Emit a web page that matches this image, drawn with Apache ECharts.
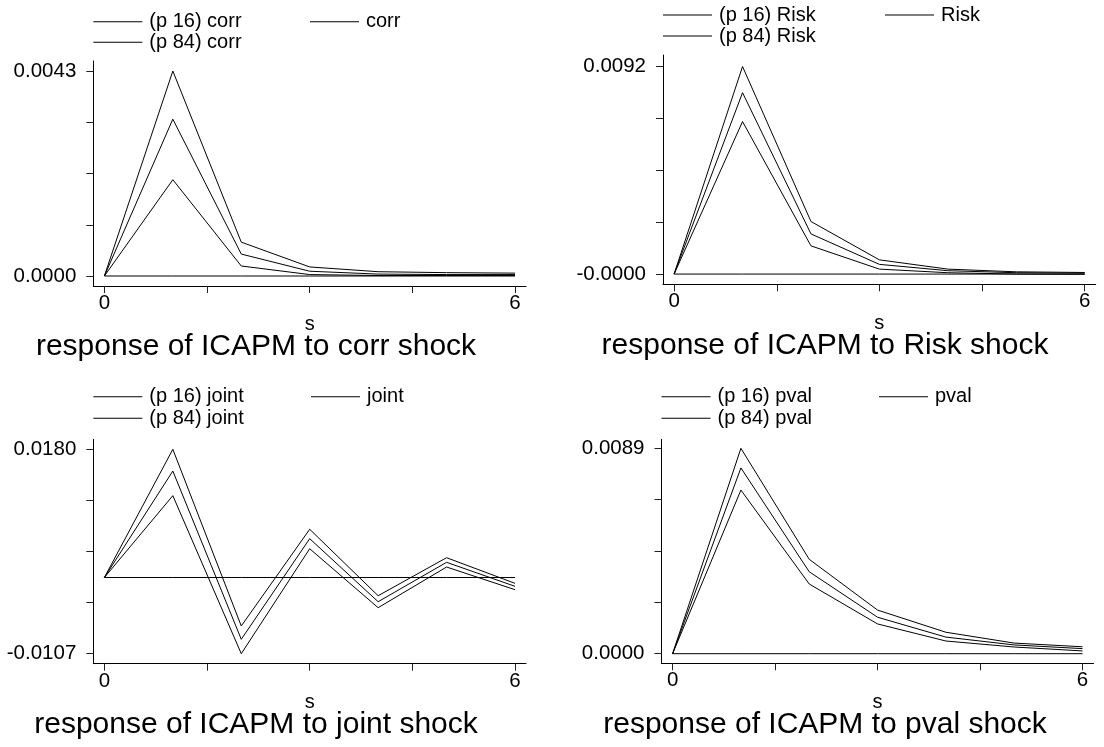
<!DOCTYPE html>
<html><head><meta charset="utf-8">
<script src="https://cdn.jsdelivr.net/npm/echarts@6/dist/echarts.min.js"></script>
<style>html,body{margin:0;padding:0;background:#fff}#c{width:1104px;height:747px}</style>
</head><body><div id="c"></div><script>
// ---- data ----
const steps = [0, 1, 2, 3, 4, 5, 6];
const xTickValues = [0, 1.5, 3, 4.5, 6];
const xTickLabels = [0, 6];
const shocks = ['corr', 'Risk', 'joint', 'pval'];

const corrP16  = [0, 0.00202, 0.00021, 0.00003, 0.00001, 0.00001, 0.00001];
const corrMean = [0, 0.00329, 0.00046, 0.00010, 0.00004, 0.00003, 0.00003];
const corrP84  = [0, 0.00430, 0.00071, 0.00019, 0.00009, 0.00007, 0.00006];

const riskP16  = [0, 0.00676, 0.00125, 0.00022, 0.00006, 0.00000, -0.00001];
const riskMean = [0, 0.00804, 0.00178, 0.00043, 0.00015, 0.00006, 0.00004];
const riskP84  = [0, 0.00920, 0.00233, 0.00063, 0.00022, 0.00010, 0.00007];

const jointP16  = [0, 0.01149, -0.01070, 0.00404, -0.00424, 0.00147, -0.00171];
const jointMean = [0, 0.01495, -0.00868, 0.00545, -0.00340, 0.00213, -0.00124];
const jointP84  = [0, 0.01800, -0.00681, 0.00677, -0.00256, 0.00278, -0.00082];

const pvalP16  = [0, 0.00709, 0.00302, 0.00129, 0.00055, 0.00029, 0.00012];
const pvalMean = [0, 0.00805, 0.00355, 0.00158, 0.00072, 0.00038, 0.00022];
const pvalP84  = [0, 0.00890, 0.00409, 0.00189, 0.00093, 0.00046, 0.00030];

const zeroRef = [0, 0, 0, 0, 0, 0, 0];

const yLabelMin = [0, -0.00001, -0.0107, 0];
const yLabelMax = [0.0043, 0.0092, 0.0180, 0.0089];

const p16s  = [corrP16, riskP16, jointP16, pvalP16];
const means = [corrMean, riskMean, jointMean, pvalMean];
const p84s  = [corrP84, riskP84, jointP84, pvalP84];

// ---- layout (pixels) ----
const L = [
  {gl: 93.3, gr: 526,    gt: 61,    gb: 286,   tt: 71,    tb: 276,   rows: [21.7, 42.3],  col2: 310, tx: 256},
  {gl: 663,  gr: 1095.7, gt: 55,    gb: 284.3, tt: 66.5,  tb: 274.3, rows: [15, 36],      col2: 885, tx: 825},
  {gl: 93.3, gr: 526,    gt: 439.3, gb: 663.7, tt: 449.3, tb: 653.7, rows: [396.7, 418.3], col2: 311, tx: 256},
  {gl: 661.5,gr: 1093.5, gt: 439.3, gb: 663.3, tt: 448.3, tb: 653.7, rows: [396.7, 418.3], col2: 879, tx: 825}
];
const FONT = '"Liberation Sans", Arial, Helvetica, sans-serif';
const LINE = '#000';

const grids = [], xAxes = [], yAxes = [], series = [], legends = [], titles = [];
shocks.forEach((s, i) => {
  const p = L[i];
  grids.push({left: p.gl, top: p.gt, width: p.gr - p.gl, height: p.gb - p.gt,
              containLabel: false, outerBoundsMode: 'none'});
  const unit = (p.gr - p.gl - 22.1) / 6;
  const xMin = -11.1 / unit, xMax = 6 + 11 / unit;
  xAxes.push({
    type: 'value', gridIndex: i, min: xMin, max: xMax,
    name: 's', nameLocation: 'middle', nameGap: 27,
    nameTextStyle: {fontFamily: FONT, fontSize: 20, color: '#000'},
    axisLine: {show: true, onZero: false, lineStyle: {color: '#000', width: 1}},
    axisTick: {show: true, inside: false, length: 7, customValues: xTickValues, lineStyle: {color: '#222'}},
    axisLabel: {show: true, margin: 7, fontFamily: FONT, fontSize: 20.5, color: '#000',
                customValues: xTickLabels, formatter: v => String(Math.round(v))},
    splitLine: {show: false}
  });
  const lo = yLabelMin[i], hi = yLabelMax[i];
  const spanPx = p.tb - p.tt, per = (hi - lo) / spanPx;
  const yMin = lo - (p.gb - p.tb) * per, yMax = hi + (p.tt - p.gt) * per;
  const yTicks = [0, 1, 2, 3, 4].map(k => lo + (hi - lo) * k / 4);
  yAxes.push({
    type: 'value', gridIndex: i, min: yMin, max: yMax,
    axisLine: {show: true, onZero: false, lineStyle: {color: '#000', width: 1}},
    axisTick: {show: true, inside: false, length: 7, customValues: yTicks, lineStyle: {color: '#222'}},
    axisLabel: {show: true, margin: 17, fontFamily: FONT, fontSize: 20.5, color: '#000',
                customValues: [lo, hi], formatter: v => v.toFixed(4)},
    splitLine: {show: false}
  });
  const names = ['(p 16) ' + s, s, '(p 84) ' + s];
  const datas = [p16s[i], means[i], p84s[i]];
  names.forEach((n, k) => {
    series.push({
      name: n, type: 'line', xAxisIndex: i, yAxisIndex: i,
      data: steps.map((x, j) => [x, datas[k][j]]),
      symbol: 'none', smooth: false, animation: false,
      lineStyle: {color: LINE, width: 1}, itemStyle: {color: LINE}
    });
  });
  series.push({
    name: 'zero' + i, type: 'line', xAxisIndex: i, yAxisIndex: i,
    data: steps.map((x, j) => [x, zeroRef[j]]),
    symbol: 'none', animation: false, silent: true,
    lineStyle: {color: LINE, width: 1}, itemStyle: {color: LINE}
  });
  const legPos = [[p.gl, p.rows[0]], [p.col2, p.rows[0]], [p.gl, p.rows[1]]];
  names.forEach((n, k) => {
    legends.push({
      data: [n], left: legPos[k][0], top: legPos[k][1] - 10, padding: 0,
      icon: 'rect', itemWidth: 49, itemHeight: 1, selectedMode: false,
      textStyle: {fontFamily: FONT, fontSize: 20, color: '#000', padding: [0, 0, 0, 2]}
    });
  });
  titles.push({
    text: 'response of ICAPM to ' + s + ' shock', left: p.tx, textAlign: 'center',
    top: p.gb + 46, padding: 0,
    textStyle: {fontFamily: FONT, fontSize: 30, fontWeight: 'normal', color: '#000'}
  });
});

const chart = echarts.init(document.getElementById('c'), null, {renderer: 'canvas'});
chart.setOption({
  backgroundColor: '#fff', animation: false,
  title: titles, legend: legends, grid: grids, xAxis: xAxes, yAxis: yAxes, series: series
});
</script></body></html>
